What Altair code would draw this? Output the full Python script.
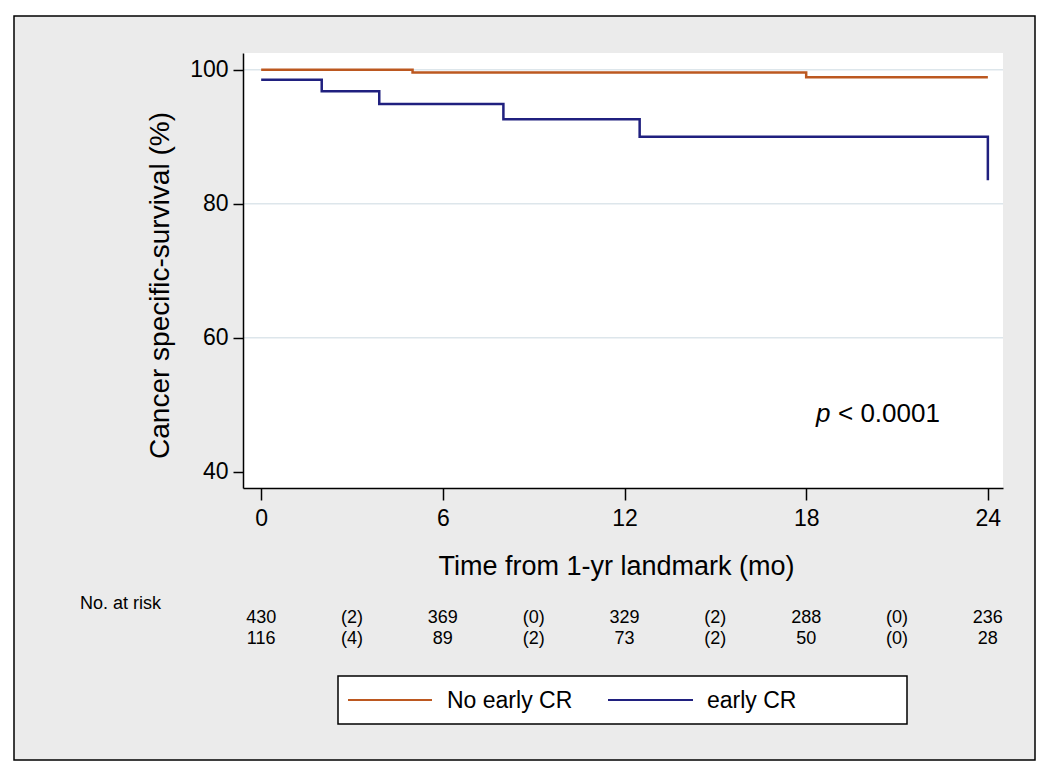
import altair as alt
import pandas as pd

# ---- data ----
groups = ["No early CR", "early CR"]
colors = ["#bc5820", "#20207f"]

no_cr_time = [0, 5, 18, 24]
no_cr_surv = [100.0, 99.6, 98.9, 98.9]

cr_time = [0, 2, 3.9, 8, 12.5, 24]
cr_surv = [98.5, 96.8, 94.9, 92.6, 90.0, 83.5]

x_ticks = [0, 6, 12, 18, 24]
y_ticks = [40, 60, 80, 100]

risk_times = [0, 3, 6, 9, 12, 15, 18, 21, 24]
risk_row1 = ["430", "(2)", "369", "(0)", "329", "(2)", "288", "(0)", "236"]
risk_row2 = ["116", "(4)", "89", "(2)", "73", "(2)", "50", "(0)", "28"]

FONT = "Liberation Sans"
W, H = 760, 435

curve = pd.DataFrame(
    [{"t": t, "s": s, "g": groups[0], "o": i} for i, (t, s) in enumerate(zip(no_cr_time, no_cr_surv))]
    + [{"t": t, "s": s, "g": groups[1], "o": i} for i, (t, s) in enumerate(zip(cr_time, cr_surv))]
)
risk = pd.DataFrame(
    [{"t": t, "lab": l, "row": 1} for t, l in zip(risk_times, risk_row1)]
    + [{"t": t, "lab": l, "row": 2} for t, l in zip(risk_times, risk_row2)]
)
grid = pd.DataFrame({"v": [60, 80, 100]})
one = pd.DataFrame({"a": [0]})
leg = pd.DataFrame({"g": groups})

xscale = alt.Scale(domain=[-0.6, 24.5], nice=False, zero=False)
yscale = alt.Scale(domain=[37.6, 102.5], nice=False, zero=False)
cscale = alt.Scale(domain=groups, range=colors)

xaxis = alt.Axis(
    values=x_ticks, title="Time from 1-yr landmark (mo)", grid=False,
    domainColor="black", domainWidth=1.5, tickColor="black", tickWidth=1.5, tickSize=12,
    labelFontSize=23, labelFont=FONT, labelColor="black", labelPadding=7,
    titleFontSize=27, titleFont=FONT, titleFontWeight="normal", titleColor="black",
    titleX=373, titleY=78, titleBaseline="middle", zindex=1,
)
yaxis = alt.Axis(
    values=y_ticks, title="Cancer specific-survival (%)", grid=False,
    domainColor="black", domainWidth=1.5, tickColor="black", tickWidth=1.5, tickSize=10,
    labelFontSize=23, labelFont=FONT, labelColor="black", labelPadding=5,
    titleFontSize=28, titleFont=FONT, titleFontWeight="normal", titleColor="black",
    titleX=-83, titleY=232, titleBaseline="middle", titleAngle=-90, zindex=1,
)

frame = alt.Chart(one).mark_rect(fill="#ebebeb", stroke="black", strokeWidth=1.5).encode(
    x=alt.value(-229), x2=alt.value(792), y=alt.value(-37), y2=alt.value(707)
)
plotbg = alt.Chart(one).mark_rect(fill="white").encode(
    x=alt.value(0), x2=alt.value(W), y=alt.value(0), y2=alt.value(H)
)
gridlines = alt.Chart(grid).mark_rule(color="#dde6eb", strokeWidth=1.5).encode(
    y=alt.Y("v:Q", scale=yscale, axis=yaxis), x=alt.value(0), x2=alt.value(W)
)
lines = alt.Chart(curve).mark_line(interpolate="step-after", strokeWidth=2.5).encode(
    x=alt.X("t:Q", scale=xscale, axis=xaxis),
    y=alt.Y("s:Q", scale=yscale, axis=yaxis),
    color=alt.Color("g:N", scale=cscale, legend=None),
    order="o:Q",
)
p_it = alt.Chart(one).mark_text(text="p", font=FONT, fontSize=26, fontStyle="italic",
                                align="left", baseline="middle", color="black").encode(
    x=alt.value(573), y=alt.value(361)
)
p_val = alt.Chart(one).mark_text(text="< 0.0001", font=FONT, fontSize=26,
                                 align="left", baseline="middle", color="black").encode(
    x=alt.value(595), y=alt.value(361)
)
risk_head = alt.Chart(one).mark_text(text="No. at risk", font=FONT, fontSize=18,
                                     align="left", baseline="middle", color="black").encode(
    x=alt.value(-163), y=alt.value(551)
)
risk1 = alt.Chart(risk).transform_filter("datum.row == 1").mark_text(
    font=FONT, fontSize=18, align="center", baseline="middle", color="black").encode(
    x=alt.X("t:Q", scale=xscale), y=alt.value(565), text="lab:N"
)
risk2 = alt.Chart(risk).transform_filter("datum.row == 2").mark_text(
    font=FONT, fontSize=18, align="center", baseline="middle", color="black").encode(
    x=alt.X("t:Q", scale=xscale), y=alt.value(586), text="lab:N"
)
legbox = alt.Chart(one).mark_rect(fill="white", stroke="black", strokeWidth=1.5).encode(
    x=alt.value(95), x2=alt.value(664), y=alt.value(623), y2=alt.value(671)
)
leg_l1 = alt.Chart(leg).transform_filter(f"datum.g == '{groups[0]}'").mark_rule(strokeWidth=2).encode(
    x=alt.value(105), x2=alt.value(189), y=alt.value(647),
    color=alt.Color("g:N", scale=cscale, legend=None)
)
leg_l2 = alt.Chart(leg).transform_filter(f"datum.g == '{groups[1]}'").mark_rule(strokeWidth=2).encode(
    x=alt.value(365), x2=alt.value(450), y=alt.value(647),
    color=alt.Color("g:N", scale=cscale, legend=None)
)
leg_t1 = alt.Chart(leg).transform_filter(f"datum.g == '{groups[0]}'").mark_text(
    font=FONT, fontSize=23, align="left", baseline="middle", color="black").encode(
    x=alt.value(204), y=alt.value(648), text="g:N"
)
leg_t2 = alt.Chart(leg).transform_filter(f"datum.g == '{groups[1]}'").mark_text(
    font=FONT, fontSize=23, align="left", baseline="middle", color="black").encode(
    x=alt.value(464), y=alt.value(648), text="g:N"
)

chart = alt.layer(
    frame, plotbg, gridlines, lines, p_it, p_val, risk_head, risk1, risk2,
    legbox, leg_l1, leg_l2, leg_t1, leg_t2,
).properties(
    width=W, height=H,
    autosize=alt.AutoSizeParams(type="none"),
    padding={"left": 235, "top": 45, "right": 37, "bottom": 274},
    background="white",
).configure_view(stroke=None)

chart.save("out.html", embed_options={"renderer": "svg", "actions": False})
